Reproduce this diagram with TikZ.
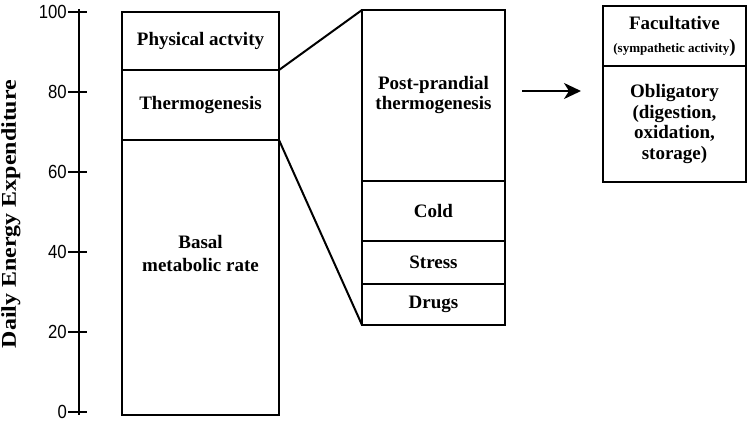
\documentclass[tikz,border=0pt]{standalone}
\usepackage{fontspec}
\setmainfont{Liberation Serif}
\newfontfamily\ticksans{Liberation Sans}
\usepackage{graphicx}
\usetikzlibrary{arrows.meta,positioning}
\tikzset{
  seg/.style={draw,line width=2pt,inner sep=0pt,outer sep=0pt,align=center,font=\bfseries\fontsize{19pt}{20pt}\selectfont},
  segl/.style={seg,minimum width=157pt},
  segm/.style={seg,minimum width=143pt},
  lbl/.style={align=center,inner sep=0pt,font=\bfseries\fontsize{19pt}{20pt}\selectfont},
  axline/.style={line width=2pt},
  ticklbl/.style={anchor=east,inner sep=0pt,font=\ticksans\fontsize{19pt}{19pt}\selectfont},
  arr/.style={-{Stealth[length=17pt,width=16pt,inset=5pt]},line width=2pt},
}

\begin{document}
\begin{tikzpicture}[x=1pt,y=-1pt]
\useasboundingbox (0,0) rectangle (749,423);
% axis
\draw[axline] (79,9) -- (79,415);
\foreach \v in {0,20,...,100}{
  \draw[axline] (68,412-4*\v) -- (87,412-4*\v);
  \node[ticklbl] (t\v) at (67,412-4*\v) {\scalebox{0.88}[1]{\v}};
}
\node[lbl,rotate=90,font=\bfseries\fontsize{21pt}{22pt}\selectfont] (ylab) at (11,214) {\scalebox{1.14}[1]{Daily Energy Expenditure}};
% total expenditure
\node[segl,minimum height=58pt] (pa) at (200.5,41) {Physical actvity};
\node[segl,minimum height=70pt,below=0pt of pa] (th) {Thermogenesis};
\node[segl,minimum height=275pt,below=0pt of th] (bmr) {};
\node[lbl] (bmrtxt) at ([yshift=24pt]bmr.center) {Basal\\[3pt]metabolic rate};
% thermogenesis split
\node[segm,minimum height=171pt] (pp) at (433.5,95.5) {Post-prandial\\thermogenesis};
\node[segm,minimum height=60pt,below=0pt of pp] (cold) {Cold};
\node[segm,minimum height=43pt,below=0pt of cold] (stress) {Stress};
\node[segm,minimum height=41pt,below=0pt of stress] (drugs) {Drugs};
\draw[axline] (th.north east) -- (pp.north west);
\draw[axline] (th.south east) -- (drugs.south west);
% post-prandial split
\coordinate (arrs) at (522,91);
\coordinate (arre) at (581,91);
\draw[arr] (arrs) -- (arre);
\node[segm,minimum height=60pt] (fac) at (674.5,36) {Facultative\\[3pt]{\fontsize{13pt}{14pt}\selectfont(sympathetic activity})};
\node[segm,minimum height=116pt,below=0pt of fac,font=\bfseries\fontsize{19pt}{20.5pt}\selectfont] (obl) {Obligatory\\(digestion,\\oxidation,\\storage)};
\end{tikzpicture}
\end{document}
